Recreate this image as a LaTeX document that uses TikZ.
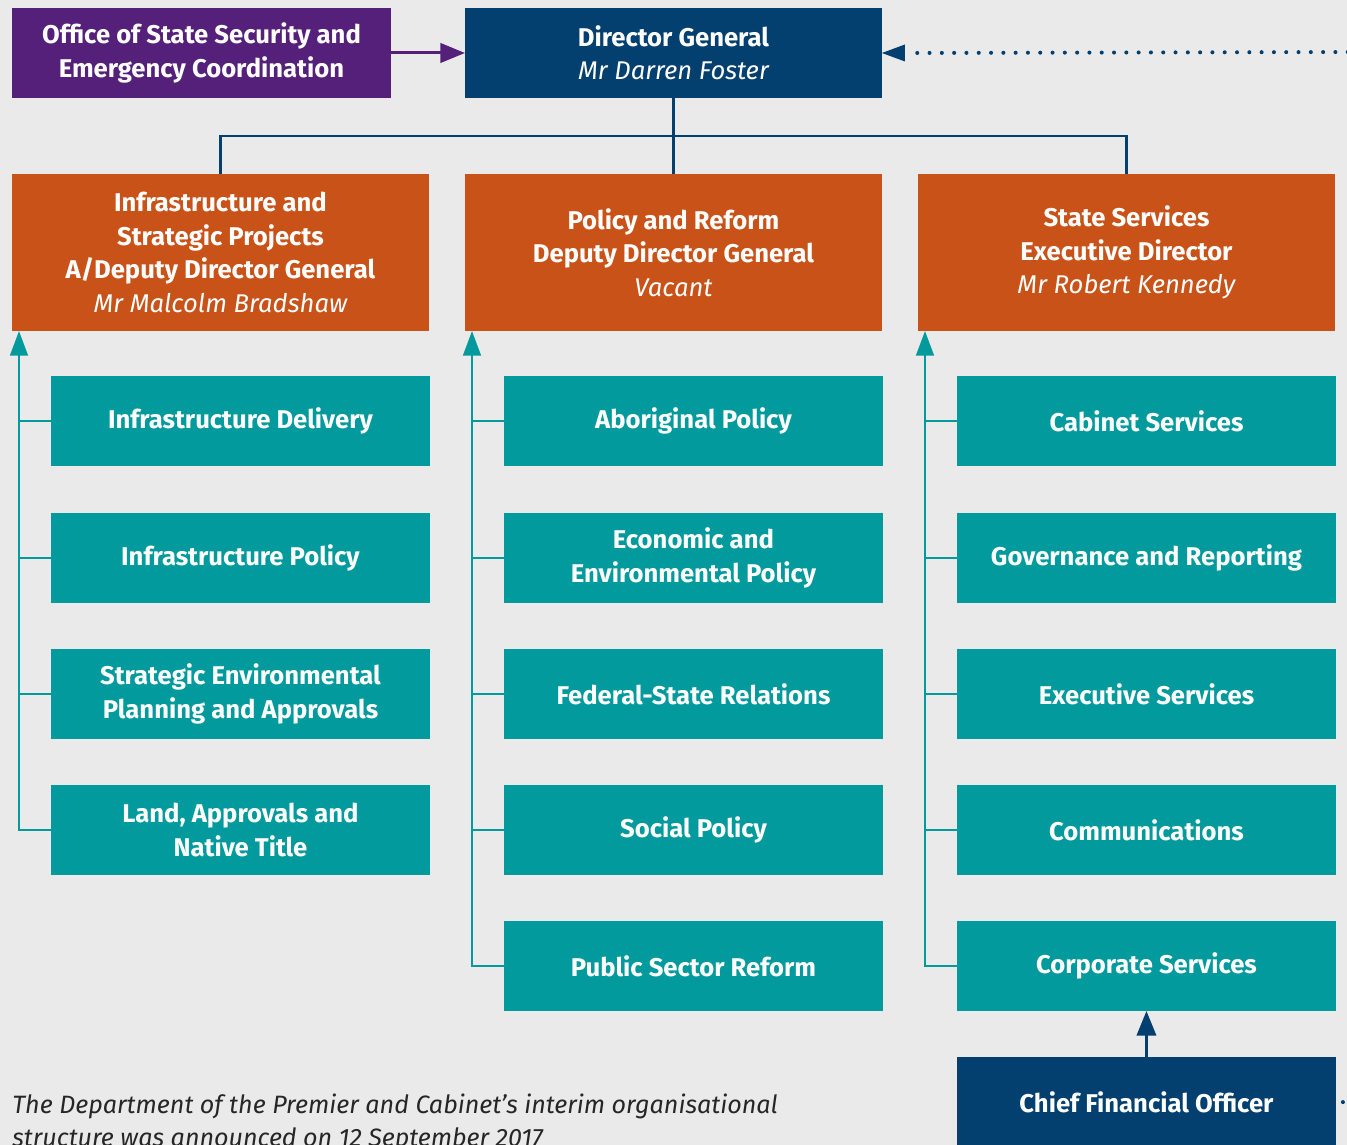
\documentclass[tikz,border=0pt]{standalone}
\usepackage{fontspec}
\setmainfont{Fira Sans}
\usetikzlibrary{arrows.meta}

\definecolor{dpcnavy}{HTML}{04406F}
\definecolor{dpcpurple}{HTML}{54207A}
\definecolor{dpcorange}{HTML}{C85218}
\definecolor{dpcteal}{HTML}{029A9C}
\definecolor{dpcbg}{HTML}{EAEAEA}

% office holder under a title
\newcommand{\holder}[1]{{\normalfont\itshape #1}}

\begin{document}
\begin{tikzpicture}[
     x = 0.02cm, y = -0.02cm,
     box/.style = {anchor = north west, inner sep = 0pt, outer sep = 0pt,
       text = white, align = center,
       font = \bfseries\fontsize{14.6}{19}\selectfont},
     topbox/.style = {box, minimum width = 8.34cm, minimum height = 1.8cm},
     headbox/.style = {box, fill = dpcorange, minimum width = 8.34cm, minimum height = 3.14cm},
     unitbox/.style = {box, fill = dpcteal, minimum width = 7.58cm, minimum height = 1.8cm},
     navyline/.style = {draw = dpcnavy, line width = 1.5pt},
     tealline/.style = {draw = dpcteal, line width = 1.5pt},
     dotline/.style = {draw = dpcnavy, line width = 2.3pt, line cap = round,
       dash pattern = on 0pt off 7pt}
    ]
    \useasboundingbox (0,0) rectangle (1347,1145);
    \clip (0,0) rectangle (1347,1145);
    \fill[dpcbg] (0,0) rectangle (1347,1145);

    % top level
    \node[topbox, fill = dpcpurple, minimum width = 7.58cm] (ossec) at (12,8)
      {Office of State Security and\\Emergency Coordination};
    \node[topbox, fill = dpcnavy] (dg) at (465,8)
      {Director General\\\holder{Mr Darren Foster}};
    \coordinate (premier) at (1360,52);

    \draw[dpcpurple, line width = 1.7pt, -{Triangle[length=14pt, width=11pt]}]
      (ossec.east) -- (dg.west);
    \draw[dotline] (premier) -- ([xshift=0.5cm]dg.east);
    \fill[dpcnavy] (dg.east) -- ++(23,-8.5) -- ++(0,17) -- cycle;

    % deputies
    \node[headbox] (infra) at (12,174)
      {Infrastructure and\\Strategic Projects\\A/Deputy Director General\\\holder{Mr Malcolm Bradshaw}};
    \node[headbox] (policy) at (465,174)
      {Policy and Reform\\Deputy Director General\\\holder{Vacant}};
    \node[headbox] (state) at (918,174)
      {State Services\\Executive Director\\\holder{Mr Robert Kennedy}};

    \coordinate (bus) at (673,136);
    \draw[navyline] (dg.south) -- (policy.north);
    \draw[navyline] (bus) -| (infra.north);
    \draw[navyline] (bus) -| (state.north);

    % Infrastructure and Strategic Projects units
    \node[unitbox] (idelivery) at (51,376) {Infrastructure Delivery};
    \node[unitbox] (ipolicy) at (51,513) {Infrastructure Policy};
    \node[unitbox] (seplan) at (51,649) {Strategic Environmental\\Planning and Approvals};
    \node[unitbox] (land) at (51,785) {Land, Approvals and\\Native Title};

    \coordinate (spineA) at ([xshift=0.14cm]infra.south west);
    \draw[tealline, -{Triangle[length=14pt, width=10pt]}] (land.west) -| (spineA);
    \draw[tealline] (idelivery.west) -- (idelivery.west -| spineA);
    \draw[tealline] (ipolicy.west) -- (ipolicy.west -| spineA);
    \draw[tealline] (seplan.west) -- (seplan.west -| spineA);

    % Policy and Reform units
    \node[unitbox] (aboriginal) at (504,376) {Aboriginal Policy};
    \node[unitbox] (econ) at (504,513) {Economic and\\Environmental Policy};
    \node[unitbox] (federal) at (504,649) {Federal-State Relations};
    \node[unitbox] (social) at (504,785) {Social Policy};
    \node[unitbox] (reform) at (504,921) {Public Sector Reform};

    \coordinate (spineB) at ([xshift=0.14cm]policy.south west);
    \draw[tealline, -{Triangle[length=14pt, width=10pt]}] (reform.west) -| (spineB);
    \draw[tealline] (aboriginal.west) -- (aboriginal.west -| spineB);
    \draw[tealline] (econ.west) -- (econ.west -| spineB);
    \draw[tealline] (federal.west) -- (federal.west -| spineB);
    \draw[tealline] (social.west) -- (social.west -| spineB);

    % State Services units
    \node[unitbox] (cabinet) at (957,376) {Cabinet Services};
    \node[unitbox] (governance) at (957,513) {Governance and Reporting};
    \node[unitbox] (executive) at (957,649) {Executive Services};
    \node[unitbox] (comms) at (957,785) {Communications};
    \node[unitbox] (corporate) at (957,921) {Corporate Services};

    \coordinate (spineC) at ([xshift=0.14cm]state.south west);
    \draw[tealline, -{Triangle[length=14pt, width=10pt]}] (corporate.west) -| (spineC);
    \draw[tealline] (cabinet.west) -- (cabinet.west -| spineC);
    \draw[tealline] (governance.west) -- (governance.west -| spineC);
    \draw[tealline] (executive.west) -- (executive.west -| spineC);
    \draw[tealline] (comms.west) -- (comms.west -| spineC);

    % finance
    \node[unitbox, fill = dpcnavy] (cfo) at (957,1057) {Chief Financial Officer};
    \coordinate (cfoout) at (1400,1103);
    \draw[navyline, -{Triangle[length=14pt, width=11pt]}] (cfo.north) -- (corporate.south);
    \draw[dotline, shorten <= 0.14cm] (cfo.east) -- (cfoout);

    \node[anchor = north west, inner sep = 0pt, align = left, text = black!85,
      font = \itshape\fontsize{14.3}{18.5}\selectfont] (note) at (12,1094)
      {The Department of the Premier and Cabinet’s interim organisational\\
       structure was announced on 12 September 2017};
   \end{tikzpicture}
\end{document}
